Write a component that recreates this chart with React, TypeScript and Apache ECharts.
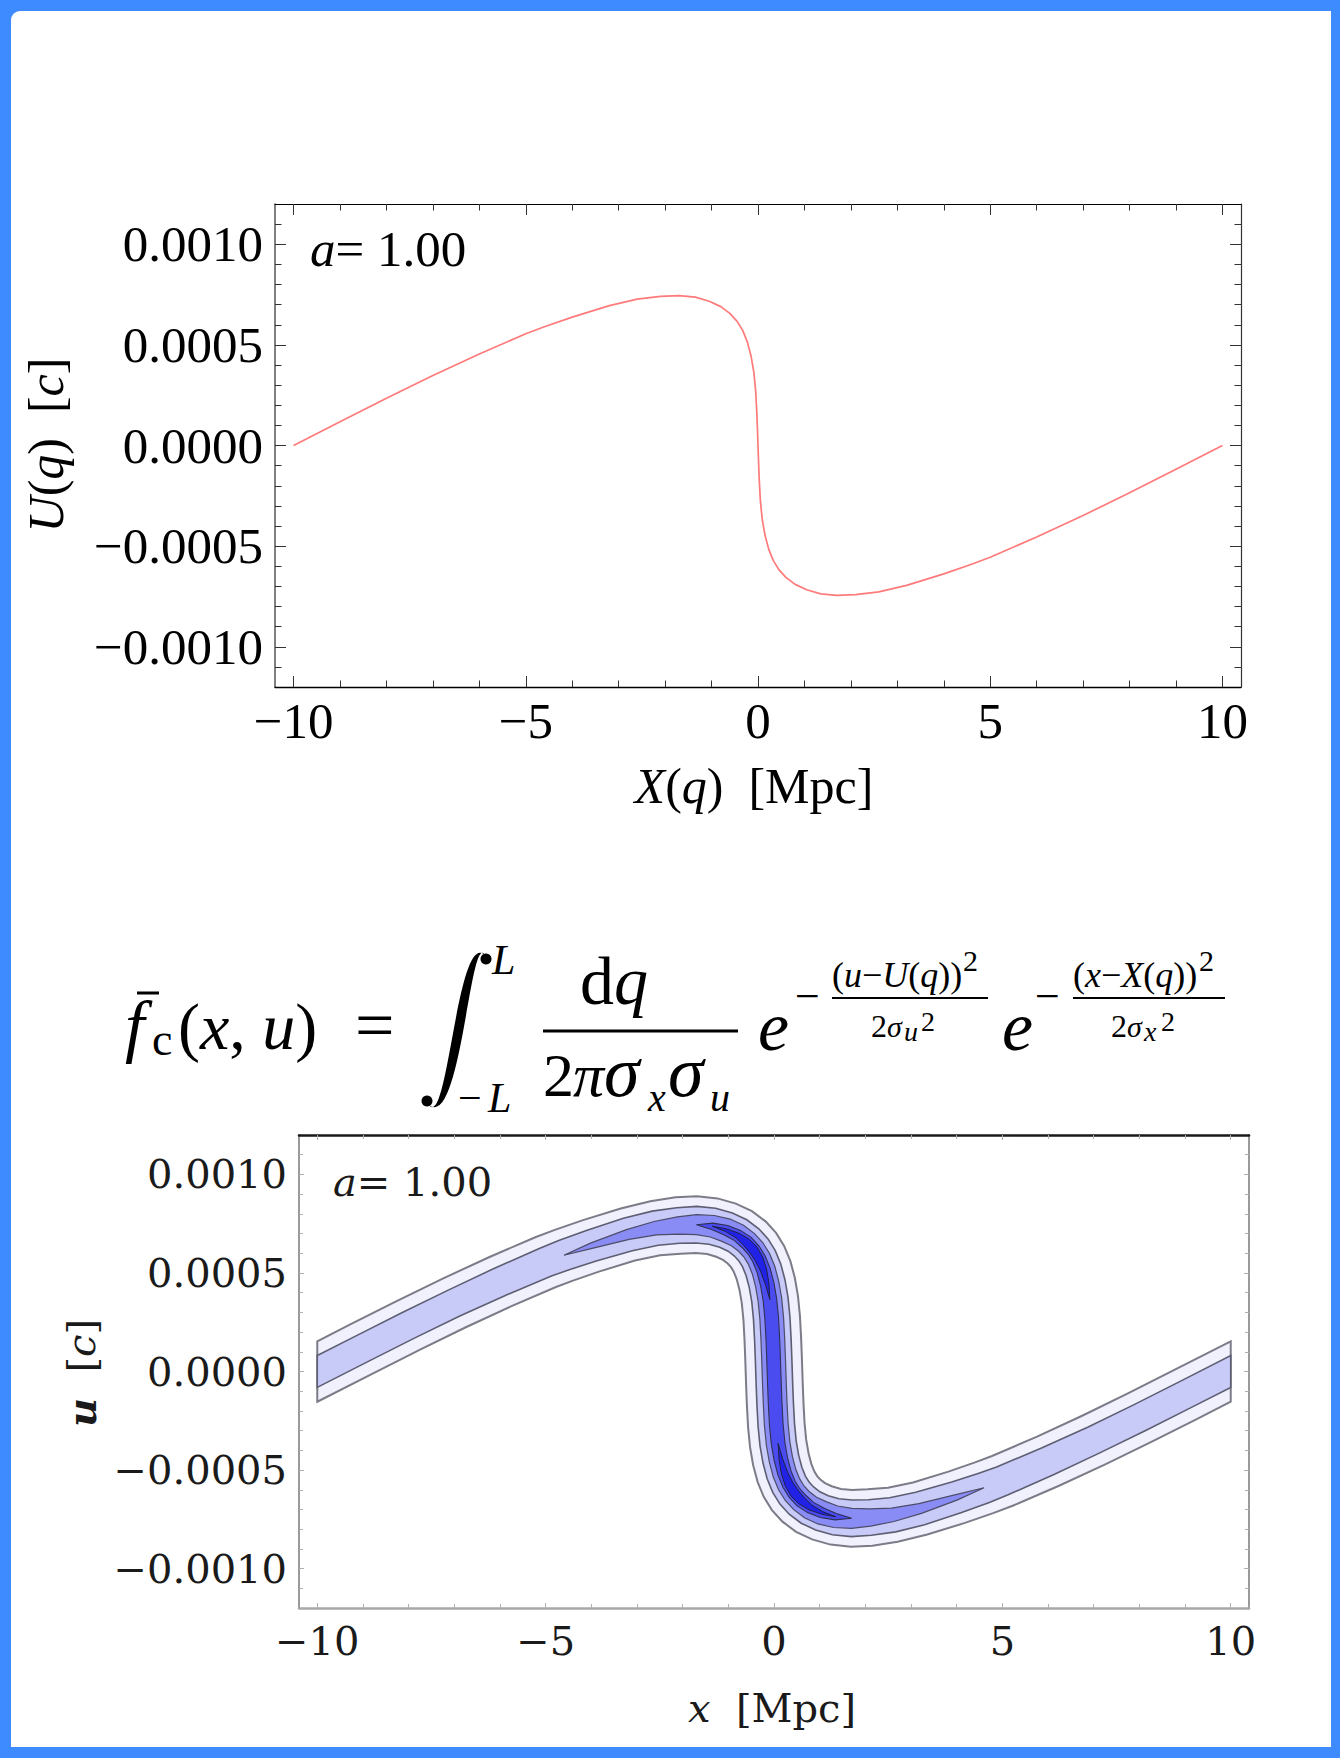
import React, { useEffect, useRef } from 'react';
import * as echarts from 'echarts';

// Phase-space curve: position X(q) [Mpc] and peculiar velocity U(q) [c]
const curveX = [-10, -9, -8, -7, -6, -5, -4.6, -4, -3.2, -2.6, -2.1, -1.7, -1.35, -1.05, -0.8, -0.6, -0.45, -0.33, -0.23, -0.15, -0.09, -0.05, -0.025, -0.01, 0, 0.01, 0.025, 0.05, 0.09, 0.15, 0.23, 0.33, 0.45, 0.6, 0.8, 1.05, 1.35, 1.7, 2.1, 2.6, 3.2, 4, 4.6, 5, 6, 7, 8, 9, 10];
const curveU = [0, 0.000118, 0.000235, 0.000348, 0.000455, 0.000555, 0.00059, 0.000638, 0.000695, 0.000727, 0.000741, 0.000745, 0.000737, 0.000717, 0.00069, 0.000655, 0.000617, 0.000572, 0.000515, 0.000445, 0.000365, 0.00027, 0.00016, 0.00007, 0, -0.00007, -0.00016, -0.00027, -0.000365, -0.000445, -0.000515, -0.000572, -0.000617, -0.000655, -0.00069, -0.000717, -0.000737, -0.000745, -0.000741, -0.000727, -0.000695, -0.000638, -0.00059, -0.000555, -0.000455, -0.000348, -0.000235, -0.000118, 0];

// Smoothed density f_c(x,u): half-width (in Mpc) of each contour band at every curve point, outermost first
const bandOuter = [0.59, 0.59, 0.59, 0.59, 0.59, 0.59, 0.59, 0.59, 0.59, 0.6, 0.62, 0.62, 0.62, 0.62, 0.62, 0.62, 0.62, 0.62, 0.62, 0.62, 0.62, 0.62, 0.62, 0.62, 0.62, 0.62, 0.62, 0.62, 0.62, 0.62, 0.62, 0.62, 0.62, 0.62, 0.62, 0.62, 0.62, 0.62, 0.62, 0.6, 0.59, 0.59, 0.59, 0.59, 0.59, 0.59, 0.59, 0.59, 0.59];
const bandLight = [0.31, 0.31, 0.31, 0.31, 0.32, 0.33, 0.34, 0.35, 0.37, 0.38, 0.39, 0.4, 0.4, 0.4, 0.4, 0.4, 0.4, 0.4, 0.4, 0.4, 0.4, 0.4, 0.4, 0.4, 0.4, 0.4, 0.4, 0.4, 0.4, 0.4, 0.4, 0.4, 0.4, 0.4, 0.4, 0.4, 0.4, 0.4, 0.39, 0.38, 0.37, 0.35, 0.34, 0.33, 0.32, 0.31, 0.31, 0.31, 0.31];
const bandMedium = [0, 0, 0, 0, 0, 0, 0, 0.06, 0.11, 0.15, 0.19, 0.22, 0.24, 0.26, 0.26, 0.26, 0.26, 0.26, 0.26, 0.26, 0.26, 0.26, 0.26, 0.26, 0.26, 0.26, 0.26, 0.26, 0.26, 0.26, 0.26, 0.26, 0.26, 0.26, 0.26, 0.26, 0.24, 0.22, 0.19, 0.15, 0.11, 0.06, 0, 0, 0, 0, 0, 0, 0];
const bandDeep = [0, 0, 0, 0, 0, 0, 0, 0, 0, 0, 0, 0, 0.07, 0.11, 0.13, 0.15, 0.15, 0.15, 0.15, 0.15, 0.15, 0.15, 0.15, 0.15, 0.15, 0.15, 0.15, 0.15, 0.15, 0.15, 0.15, 0.15, 0.15, 0.15, 0.13, 0.11, 0.07, 0, 0, 0, 0, 0, 0, 0, 0, 0, 0, 0, 0];
const bandPeak = [0, 0, 0, 0, 0, 0, 0, 0, 0, 0, 0, 0, 0, 0.03, 0.06, 0.09, 0.1, 0.09, 0.07, 0.04, 0, 0, 0, 0, 0, 0, 0, 0, 0, 0.04, 0.07, 0.09, 0.1, 0.09, 0.06, 0.03, 0, 0, 0, 0, 0, 0, 0, 0, 0, 0, 0, 0, 0];
const bandLevels = [bandOuter, bandLight, bandMedium, bandDeep, bandPeak];
const bandFill = ['#f0f1fd', '#c8caf8', '#8a8cf5', '#4a4cf0', '#2222e6'];
const bandEdge = ['#7c7c88', '#5e5e72', '#4c4c68', '#303052', '#202040'];
const bandEdgeWidth = [2, 1.6, 1.2, 1.1, 1];

// Frame ticks
const xMajorTicks = [-10, -5, 0, 5, 10];
const xMinorTicks = [-9, -8, -7, -6, -4, -3, -2, -1, 1, 2, 3, 4, 6, 7, 8, 9];
const uMajorTicks = [-0.001, -0.0005, 0, 0.0005, 0.001];
const uMinorTicks = [-0.0011, -0.0009, -0.0008, -0.0007, -0.0006, -0.0004, -0.0003, -0.0002, -0.0001, 0.0001, 0.0002, 0.0003, 0.0004, 0.0006, 0.0007, 0.0008, 0.0009, 0.0011];
const xRange = [-10.4, 10.4];
const uRange = [-0.0012, 0.0012];

const SERIF = '"Liberation Serif", "Times New Roman", serif';
const DEJAVU = '"DejaVu Serif", serif';

const fontOf = (size: number, style: string, fam: string) => `${style ? style + ' ' : ''}${size}px ${fam}`;
const centralShift = (fam: string) => (fam === DEJAVU ? 0.346 : 0.3375);

const fmtX = (v: number) => (v < 0 ? '\u2212' + Math.abs(v) : String(v));
const fmtU = (v: number) => (v < 0 ? '\u2212' : '') + Math.abs(v).toFixed(4);

// Text placed by its alphabetic baseline
function word(text: string, x: number, base: number, size: number, style = '', fam = SERIF, color = '#000') {
  return {
    type: 'text', x, y: base - centralShift(fam) * size, silent: true,
    style: { text, font: fontOf(size, style, fam), fill: color, align: 'left', verticalAlign: 'middle' },
  };
}

function richText(parts: [string, string][], size: number, fam: string, color: string) {
  const rich: Record<string, any> = {};
  let text = '';
  parts.forEach(([s, style], i) => {
    const key = 't' + i;
    rich[key] = { font: fontOf(size, style, fam), fill: color };
    text += `{${key}|${s}}`;
  });
  return { text, rich, font: fontOf(size, '', fam), fill: color };
}

function richWord(parts: [string, string][], x: number, base: number, size: number, fam = SERIF, color = '#000') {
  return {
    type: 'text', x, y: base - centralShift(fam) * size, silent: true,
    style: { ...richText(parts, size, fam, color), align: 'left', verticalAlign: 'middle' },
  };
}

function centeredLabel(parts: [string, string][], cx: number, cy: number, size: number, fam: string, color: string, rotation = 0) {
  return {
    type: 'text', x: cx, y: cy, rotation, silent: true,
    style: { ...richText(parts, size, fam, color), align: 'center', verticalAlign: 'middle' },
  };
}

function rule(x1: number, x2: number, y: number, w: number) {
  return { type: 'line', silent: true, shape: { x1, y1: y, x2, y2: y }, style: { stroke: '#000', lineWidth: w } };
}

echarts.graphic.registerShape(
  'integralSign',
  echarts.graphic.extendPath('M64 5 C36 -20 27 180 8 155 C40 180 49 -20 64 5 Z', {}) as any
);

type Look = {
  lines: any[]; tick: any; major: number; minor: number; label: any; formatter: (v: number) => string;
};

function frameAxes(gridIndex: number, dim: 'x' | 'y', major: number[], minor: number[], range: number[], look: Look) {
  const base = {
    type: 'value', gridIndex, min: range[0], max: range[1], silent: true,
    splitLine: { show: false }, axisPointer: { show: false },
  };
  const pos = dim === 'x' ? ['bottom', 'top'] : ['left', 'right'];
  const tick = (len: number, values: number[]) => ({ show: true, inside: true, length: len, customValues: values, lineStyle: look.tick });
  return [
    { ...base, position: pos[0], axisLine: { show: true, onZero: false, lineStyle: look.lines[0] }, axisTick: tick(look.major, major),
      axisLabel: { show: true, customValues: major, formatter: look.formatter, ...look.label } },
    { ...base, position: pos[0], axisLine: { show: false, onZero: false }, axisTick: tick(look.minor, minor), axisLabel: { show: false } },
    { ...base, position: pos[1], axisLine: { show: true, onZero: false, lineStyle: look.lines[1] }, axisTick: tick(look.major, major), axisLabel: { show: false } },
    { ...base, position: pos[1], axisLine: { show: false, onZero: false }, axisTick: tick(look.minor, minor), axisLabel: { show: false } },
  ];
}

// Filled contour bands drawn as offsets along the curve in pixel space
function renderBand(params: any, api: any) {
  const level = params.dataIndex;
  const widths = bandLevels[level];
  const pts = curveX.map((x, i) => api.coord([x, curveU[i]]));
  const unit = api.size([1, 0])[0];
  const n = pts.length;
  const plus: number[][] = [];
  const minus: number[][] = [];
  for (let i = 0; i < n; i++) {
    const a = pts[Math.max(i - 1, 0)];
    const b = pts[Math.min(i + 1, n - 1)];
    let tx = b[0] - a[0];
    let ty = b[1] - a[1];
    const len = Math.hypot(tx, ty) || 1;
    tx /= len; ty /= len;
    const w = widths[i] * unit;
    let ox: number, oy: number;
    if (i === 0 || i === n - 1) { ox = 0; oy = w / Math.abs(tx); } else { ox = -ty * w; oy = tx * w; }
    plus.push([pts[i][0] + ox, pts[i][1] + oy]);
    minus.push([pts[i][0] - ox, pts[i][1] - oy]);
  }
  const children: any[] = [];
  let i = 0;
  while (i < n) {
    if (widths[i] <= 0) { i++; continue; }
    const s = Math.max(i - 1, 0);
    let e = i;
    while (e < n && widths[e] > 0) e++;
    const end = Math.min(e, n - 1);
    const poly: number[][] = [];
    for (let k = s; k <= end; k++) poly.push(plus[k]);
    for (let k = end; k >= s; k--) poly.push(minus[k]);
    children.push({
      type: 'polygon', shape: { points: poly },
      style: { fill: bandFill[level], stroke: bandEdge[level], lineWidth: bandEdgeWidth[level] },
    });
    i = e + 1;
  }
  return { type: 'group', children };
}

export default function App() {
  const ref = useRef<HTMLDivElement>(null);
  useEffect(() => {
    document.body.style.margin = '0';
    if (!ref.current) return;
    const chart = echarts.init(ref.current, undefined, { renderer: 'svg' });

    const topLook: Look = {
      lines: [{ color: '#000', width: 1.4 }, { color: '#000', width: 1.2 }],
      tick: { color: '#333', width: 1 }, major: 11, minor: 6.5,
      label: { fontFamily: SERIF, fontSize: 51, color: '#000', margin: 8 },
      formatter: fmtX,
    };
    const topLookY: Look = {
      ...topLook,
      lines: [{ color: '#555', width: 1.5 }, { color: '#333', width: 1.2 }],
      label: { fontFamily: SERIF, fontSize: 51, color: '#000', margin: 12 },
      formatter: fmtU,
    };
    const botLook: Look = {
      lines: [{ color: '#a8a8a8', width: 2.5 }, { color: '#1a1a1a', width: 2.5 }],
      tick: { color: '#b0b0b0', width: 1 }, major: 5, minor: 4,
      label: { fontFamily: DEJAVU, fontSize: 40, color: '#1a1a1a', margin: 13 },
      formatter: fmtX,
    };
    const botLookY: Look = {
      ...botLook,
      lines: [{ color: '#9a9a9a', width: 2 }, { color: '#9a9a9a', width: 2 }],
      label: { fontFamily: DEJAVU, fontSize: 40, color: '#1a1a1a', margin: 12 },
      formatter: fmtU,
    };

    const graphics: any[] = [
      // Panel annotations and axis names
      richWord([['a', 'italic'], ['=', ''], [' ', ''], ['1.00', '']], 310, 266, 51),
      centeredLabel([['X', 'italic'], ['(', ''], ['q', 'italic'], [')', ''], ['  ', ''], ['[Mpc]', '']], 754, 786, 50, SERIF, '#000'),
      centeredLabel([['U', 'italic'], ['(', ''], ['q', 'italic'], [')', ''], ['  ', ''], ['[', ''], ['c', 'italic'], [']', '']], 46, 445, 50, SERIF, '#000', Math.PI / 2),
      richWord([['a', 'italic'], ['=', ''], [' ', ''], ['1.00', '']], 333, 1196, 40, DEJAVU, '#1a1a1a'),
      centeredLabel([['x', 'italic'], ['  ', ''], ['[Mpc]', '']], 772, 1708, 40, DEJAVU, '#1a1a1a'),
      centeredLabel([['u', 'italic bold'], ['  ', ''], ['[', ''], ['c', 'italic'], [']', '']], 81, 1373, 40, DEJAVU, '#1a1a1a', Math.PI / 2),

      // Smoothed phase-space density formula
      word('f', 125, 1049, 70, 'italic'),
      rule(137, 159, 993, 3),
      word('c', 152, 1055, 46),
      richWord([['(', ''], ['x', 'italic'], [',', ''], [' ', ''], ['u', 'italic'], [')', '']], 178, 1049, 66),
      word('=', 355, 1049, 70),
      { type: 'integralSign', x: 421, y: 950, silent: true, style: { fill: '#000' } },
      { type: 'circle', silent: true, shape: { cx: 486, cy: 959, r: 5.5 }, style: { fill: '#000' } },
      { type: 'circle', silent: true, shape: { cx: 427, cy: 1101, r: 5.5 }, style: { fill: '#000' } },
      word('L', 492, 974, 42, 'italic'),
      word('\u2212', 458, 1112, 42),
      word('L', 488, 1112, 42, 'italic'),
      richWord([['d', ''], ['q', 'italic']], 580, 1004, 68),
      rule(543, 738, 1031, 3),
      word('2', 543, 1096, 62),
      word('\u03c0', 573, 1096, 62, 'italic'),
      word('\u03c3', 604, 1096, 72, 'italic'),
      word('x', 648, 1111, 40, 'italic'),
      word('\u03c3', 668, 1096, 72, 'italic'),
      word('u', 710, 1111, 40, 'italic'),
      word('e', 758, 1050, 70, 'italic'),
      word('\u2212', 795, 1011, 44),
      richWord([['(', ''], ['u', 'italic'], ['\u2212', ''], ['U', 'italic'], ['(', ''], ['q', 'italic'], ['))', '']], 832, 987, 36),
      word('2', 963, 971, 30),
      rule(832, 988, 998, 2),
      word('2', 871, 1037, 32),
      word('\u03c3', 887, 1037, 30, 'italic'),
      word('u', 904, 1041, 28, 'italic'),
      word('2', 921, 1031, 28),
      word('e', 1002, 1050, 70, 'italic'),
      word('\u2212', 1035, 1011, 44),
      richWord([['(', ''], ['x', 'italic'], ['\u2212', ''], ['X', 'italic'], ['(', ''], ['q', 'italic'], ['))', '']], 1073, 987, 36),
      word('2', 1199, 971, 30),
      rule(1073, 1225, 998, 2),
      word('2', 1111, 1037, 32),
      word('\u03c3', 1127, 1037, 30, 'italic'),
      word('x', 1144, 1041, 28, 'italic'),
      word('2', 1161, 1031, 28),
    ];

    chart.setOption({
      animation: false,
      backgroundColor: 'transparent',
      grid: [
        { left: 275, top: 204, width: 966, height: 483 },
        { left: 299, top: 1135, width: 950, height: 473 },
      ],
      xAxis: [
        ...frameAxes(0, 'x', xMajorTicks, xMinorTicks, xRange, topLook),
        ...frameAxes(1, 'x', xMajorTicks, xMinorTicks, xRange, botLook),
      ],
      yAxis: [
        ...frameAxes(0, 'y', uMajorTicks, uMinorTicks, uRange, topLookY),
        ...frameAxes(1, 'y', uMajorTicks, uMinorTicks, uRange, botLookY),
      ],
      series: [
        {
          type: 'line', xAxisIndex: 0, yAxisIndex: 0, silent: true,
          data: curveX.map((x, i) => [x, curveU[i]]),
          showSymbol: false, lineStyle: { color: '#ff7a7a', width: 1.7 },
        },
        {
          type: 'custom', xAxisIndex: 4, yAxisIndex: 4, silent: true,
          data: bandLevels.map((_, i) => [i]),
          renderItem: renderBand,
        },
      ],
      graphic: graphics,
    });
    return () => chart.dispose();
  }, []);

  return (
    <div style={{ position: 'relative', width: 1340, height: 1758, background: '#3d8bff', overflow: 'hidden' }}>
      <div style={{ position: 'absolute', left: 11, top: 11, width: 1320, height: 1736, background: '#fff', borderTopLeftRadius: 9 }} />
      <div ref={ref} style={{ position: 'absolute', left: 0, top: 0, width: 1340, height: 1758 }} />
    </div>
  );
}
